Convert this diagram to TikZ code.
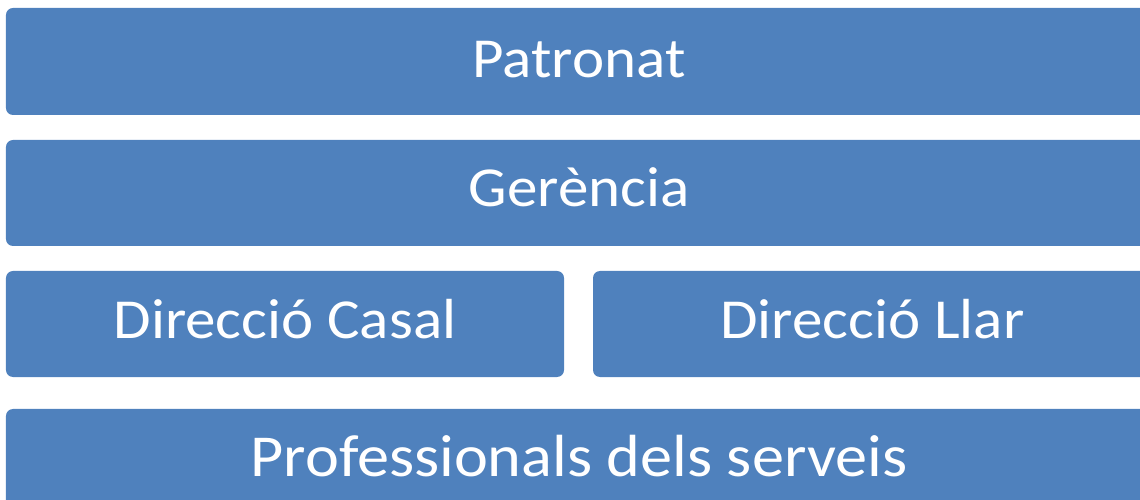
\documentclass[tikz,border=0pt]{standalone}
\usepackage{fontspec}
\setmainfont{Carlito}[FakeStretch=1.08]
\definecolor{boxblue}{HTML}{4F81BD}
\begin{document}
\begin{tikzpicture}[x=1bp,y=-1bp,
  orgbox/.style={fill=boxblue, draw=none, rounded corners=7bp, inner sep=0pt,
    text=white, font=\fontsize{56.5bp}{60bp}\selectfont, text depth=0pt}]
\useasboundingbox (0,0) rectangle (1140,500);
\clip (0,0) rectangle (1140,500);
\node[orgbox, minimum width=1146bp, minimum height=107bp, text height=32bp] (patronat) at (579,61.5) {Patronat};
\node[orgbox, minimum width=1146bp, minimum height=106bp, text height=28bp] (gerencia) at (579,193) {Gerència};
\node[orgbox, minimum width=558bp, minimum height=106bp, text height=29.4bp] (casal) at (285,324) {Direcció Casal};
\node[orgbox, minimum width=559bp, minimum height=106bp, text height=29.4bp] (llar) at (872.5,324) {Direcció Llar};
\node[orgbox, minimum width=1146bp, minimum height=106bp, text height=28bp,
  font=\fontsize{59.5bp}{64bp}\selectfont] (prof) at (579,462) {Professionals dels serveis};
\end{tikzpicture}
\end{document}
